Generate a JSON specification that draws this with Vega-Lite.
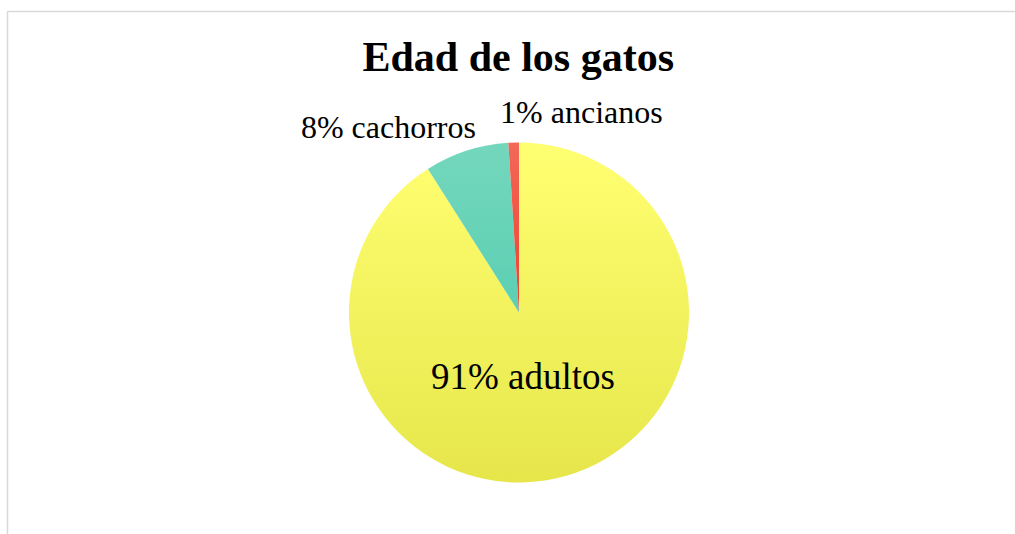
{
  "$schema": "https://vega.github.io/schema/vega-lite/v6.json",
  "width": 1007.5,
  "height": 522.5,
  "autosize": {"type": "none"},
  "padding": {"left": 7.5, "top": 11.5, "right": 0, "bottom": 0},
  "background": "white",
  "config": {"view": {"stroke": null}, "font": "Liberation Serif"},
  "title": {
    "text": "Edad de los gatos",
    "font": "Liberation Serif",
    "fontSize": 42,
    "fontWeight": "bold",
    "color": "#000000",
    "anchor": "middle",
    "baseline": "alphabetic",
    "offset": 0,
    "dy": 102.5,
    "dx": 7
  },
  "data": {
    "values": [
      {"edad": "adultos", "pct": 91, "orden": 1, "etiqueta": "91% adultos"},
      {"edad": "cachorros", "pct": 8, "orden": 2, "etiqueta": "8% cachorros"},
      {"edad": "ancianos", "pct": 1, "orden": 3, "etiqueta": "1% ancianos"}
    ]
  },
  "transform": [
    {"stack": "pct", "groupby": [], "sort": [{"field": "orden", "order": "ascending"}], "as": ["t0", "t1"]}
  ],
  "layer": [
    {
      "transform": [{"filter": "datum.orden === 1"}],
      "mark": {"type": "rect", "fill": "transparent", "stroke": "#d9d9d9", "strokeWidth": 1.5, "strokeDash": [1007.5, 1530, 522.5, 0]},
      "encoding": {}
    },
    {
      "mark": {"type": "arc", "outerRadius": 170, "xOffset": 7.75, "yOffset": 39.75},
      "encoding": {
        "theta": {"field": "t0", "type": "quantitative", "scale": {"domain": [0, 100]}},
        "theta2": {"field": "t1"},
        "fill": {
          "condition": [
            {"test": "datum.edad === 'adultos'", "value": {"gradient": "linear", "x1": 0, "y1": 0, "x2": 0, "y2": 1, "stops": [{"offset": 0, "color": "#FFFF72"}, {"offset": 1, "color": "#E6E64B"}]}},
            {"test": "datum.edad === 'cachorros'", "value": {"gradient": "linear", "x1": 0, "y1": 0, "x2": 0, "y2": 1, "stops": [{"offset": 0, "color": "#74D7BD"}, {"offset": 1, "color": "#5BCFB2"}]}}
          ],
          "value": {"gradient": "linear", "x1": 0, "y1": 0, "x2": 0, "y2": 1, "stops": [{"offset": 0, "color": "#F36858"}, {"offset": 1, "color": "#F0402E"}]}
        }
      }
    },
    {
      "transform": [{"filter": "datum.edad === 'adultos'"}],
      "mark": {"type": "text", "radius": 0, "align": "center", "baseline": "alphabetic", "fontSize": 37, "font": "Liberation Serif", "color": "#000000", "xOffset": 7.75, "yOffset": 39.75, "dx": 4, "dy": 76.8},
      "encoding": {
        "theta": {"field": "t0", "type": "quantitative", "scale": {"domain": [0, 100]}},
        "text": {"field": "etiqueta"}
      }
    },
    {
      "transform": [{"filter": "datum.edad === 'cachorros'"}],
      "mark": {"type": "text", "radius": 206.3, "align": "center", "baseline": "alphabetic", "fontSize": 32, "font": "Liberation Serif", "color": "#000000", "xOffset": 7.75, "yOffset": 39.75, "dx": -20},
      "encoding": {
        "theta": {"field": "t0", "type": "quantitative", "scale": {"domain": [0, 100]}},
        "text": {"field": "etiqueta"}
      }
    },
    {
      "transform": [{"filter": "datum.edad === 'ancianos'"}],
      "mark": {"type": "text", "radius": 189.6, "align": "left", "baseline": "alphabetic", "fontSize": 32, "font": "Liberation Serif", "color": "#000000", "xOffset": 7.75, "yOffset": 39.75, "dx": -7},
      "encoding": {
        "theta": {"field": "t0", "type": "quantitative", "scale": {"domain": [0, 100]}},
        "text": {"field": "etiqueta"}
      }
    }
  ]
}
